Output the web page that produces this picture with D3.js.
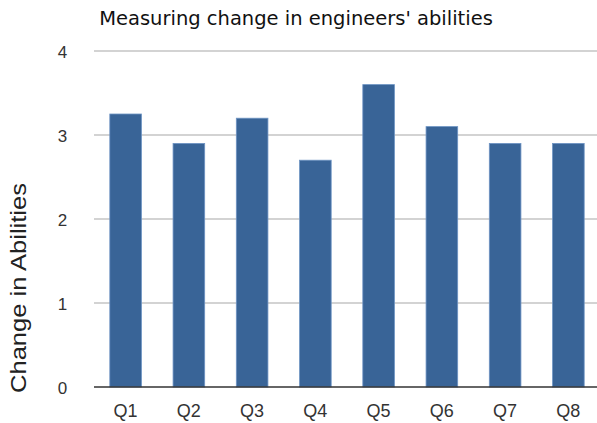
<!DOCTYPE html>
<html>
<head>
<meta charset="utf-8">
<script src="https://cdn.jsdelivr.net/npm/d3@7"></script>
<style>
  body { margin: 0; background: #fff; }
</style>
</head>
<body>
<script>
var categories = ['Q1', 'Q2', 'Q3', 'Q4', 'Q5', 'Q6', 'Q7', 'Q8'];
var values = [3.25, 2.9, 3.2, 2.7, 3.6, 3.1, 2.9, 2.9];
var y_ticks = [0, 1, 2, 3, 4];

var width = 597,
    height = 423;
var plot_left = 94, plot_right = 600, plot_top = 51, plot_bottom = 387;

var svg = d3.select('body')
  .append('svg')
  .attr('width', width)
  .attr('height', height);

var x = d3.scaleBand()
  .domain(categories)
  .range([plot_left, plot_right])
  .paddingInner(0.5)
  .paddingOuter(0.25);

var y = d3.scaleLinear()
  .domain([0, 4])
  .range([plot_bottom, plot_top]);

// gridlines
svg.append('g')
  .selectAll('line')
  .data(y_ticks.filter(function(d) { return d > 0; }))
  .enter()
  .append('line')
  .attr('x1', plot_left)
  .attr('x2', width)
  .attr('y1', function(d) { return y(d); })
  .attr('y2', function(d) { return y(d); })
  .style('stroke', '#c4c4c4')
  .style('stroke-width', 1.5);

// y tick labels
svg.append('g')
  .selectAll('text')
  .data(y_ticks)
  .enter()
  .append('text')
  .attr('x', 62.5)
  .attr('y', function(d) { return y(d) + 7; })
  .attr('text-anchor', 'middle')
  .attr('font-family', 'Liberation Sans, Arial, sans-serif')
  .attr('font-size', '17px')
  .attr('fill', '#333')
  .text(function(d) { return d; });

// bars
svg.append('g')
  .selectAll('rect')
  .data(values)
  .enter()
  .append('rect')
  .attr('x', function(d, i) { return x(categories[i]); })
  .attr('width', x.bandwidth())
  .attr('y', function(d) { return y(d); })
  .attr('height', function(d) { return plot_bottom - y(d); })
  .style('fill', '#396497')
  .style('stroke', '#6e94c4')
  .style('stroke-width', 0.8);

// baseline
svg.append('line')
  .attr('x1', plot_left)
  .attr('x2', width)
  .attr('y1', plot_bottom)
  .attr('y2', plot_bottom)
  .style('stroke', '#333')
  .style('stroke-width', 1.5);

// x labels
svg.append('g')
  .selectAll('text')
  .data(categories)
  .enter()
  .append('text')
  .attr('x', function(d) { return x(d) + x.bandwidth() / 2; })
  .attr('y', 417)
  .attr('text-anchor', 'middle')
  .attr('font-family', 'Liberation Sans, Arial, sans-serif')
  .attr('font-size', '18px')
  .attr('fill', '#333')
  .text(function(d) { return d; });

// title
svg.append('text')
  .attr('x', 296)
  .attr('y', 25)
  .attr('text-anchor', 'middle')
  .attr('font-family', 'DejaVu Sans, Verdana, sans-serif')
  .attr('font-size', '19.5px')
  .attr('fill', '#111')
  .text("Measuring change in engineers' abilities");

// y axis title
svg.append('text')
  .attr('transform', 'translate(26,288) rotate(-90)')
  .attr('text-anchor', 'middle')
  .attr('font-family', 'Liberation Sans, Arial, sans-serif')
  .attr('font-size', '22px')
  .attr('textLength', 210)
  .attr('lengthAdjust', 'spacingAndGlyphs')
  .attr('fill', '#222')
  .text('Change in Abilities');
</script>
</body>
</html>
